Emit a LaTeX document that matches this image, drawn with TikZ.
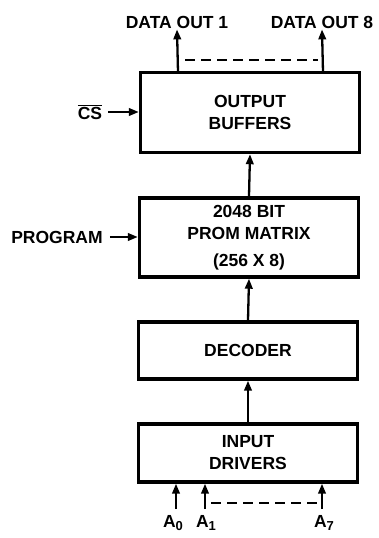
\documentclass[tikz,border=0pt]{standalone}
\usepackage{fontspec}
\setmainfont{Liberation Sans}
\usetikzlibrary{arrows.meta,positioning}
\newcommand{\pinsub}[1]{\raisebox{-3.5pt}{\fontsize{13}{13}\selectfont #1}}
\tikzset{
    every picture/.style={line cap=butt,line join=miter},
    blockbox/.style={draw=black,line width=3.4pt,minimum width=219pt,
      inner sep=2pt,align=center,font=\bfseries\fontsize{17.5}{22}\selectfont},
    pinlabel/.style={inner sep=1pt,font=\bfseries\fontsize{17.5}{20}\selectfont},
    sigarrow/.style={-{Triangle[length=10pt,width=7.5pt]},draw=black,line width=2.3pt},
    buslink/.style={draw=black,line width=2.3pt,dash pattern=on 10pt off 6pt}
}
\begin{document}
\begin{tikzpicture}[x=1pt,y=-1pt]
  \useasboundingbox (0,0) rectangle (378,538);
  % blocks, top to bottom
  \node[blockbox,minimum height=80pt] (outbuf) at (250,112.5) {OUTPUT\\BUFFERS};
  \node[blockbox,minimum height=79pt] (prom) at (249,237.5) {2048 BIT\\PROM MATRIX\\[5pt](256 X 8)};
  \node[blockbox,minimum height=57pt] (dec) at (248,350.5) {DECODER};
  \node[blockbox,minimum height=58pt] (drv) at (248,453) {INPUT\\DRIVERS};
  % data path
  \draw[sigarrow] (drv.north) -- (dec.south);
  \draw[sigarrow] (dec.north) -- (prom.south);
  \draw[sigarrow] (prom.north) -- (outbuf.south);
  % outputs
  \coordinate (q1) at (178,72);
  \coordinate (q8) at (323,72);
  \node[pinlabel] (dout1) at (177,22) {DATA OUT 1};
  \node[pinlabel] (dout8) at (322,22) {DATA OUT 8};
  \draw[sigarrow] (q1) -- (dout1.south);
  \draw[sigarrow] (q8) -- (dout8.south);
  \coordinate (qa) at (185,60);
  \coordinate (qb) at (318,60);
  \draw[buslink] (qa) -- (qb);
  % control inputs
  \node[pinlabel] (cs) at (90,112) {$\overline{\mbox{CS}}$};
  \draw[sigarrow] (cs.east) ++(5pt,0) coordinate (cs0) -- (outbuf.west |- cs0);
  \node[pinlabel] (prog) at (57,237) {PROGRAM};
  \draw[sigarrow] (prog.east) ++(6pt,0) coordinate (prog0) -- (prom.west |- prog0);
  % address inputs
  \node[pinlabel] (a0) at (173,523) {A\pinsub{0}};
  \node[pinlabel] (a1) at (206,523) {A\pinsub{1}};
  \node[pinlabel] (a7) at (324,523) {A\pinsub{7}};
  \coordinate (p0) at (176,509);
  \coordinate (p1) at (205,509);
  \coordinate (p7) at (322,509);
  \draw[sigarrow] (p0) -- (p0 |- drv.south);
  \draw[sigarrow] (p1) -- (p1 |- drv.south);
  \draw[sigarrow] (p7) -- (p7 |- drv.south);
  \coordinate (pa) at (211,503);
  \coordinate (pb) at (318,503);
  \draw[buslink] (pa) -- (pb);
\end{tikzpicture}
\end{document}
